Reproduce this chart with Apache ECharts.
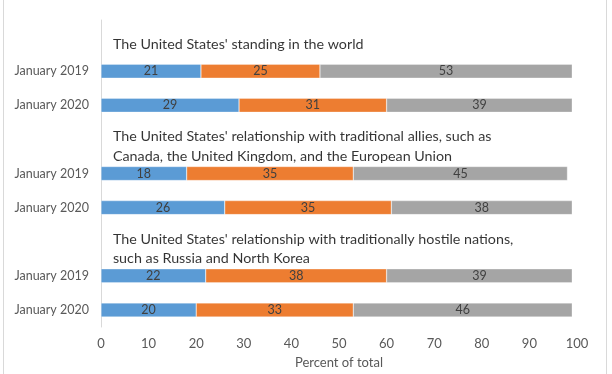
<!DOCTYPE html>
<html><head><meta charset="utf-8">
<script src="https://cdn.jsdelivr.net/npm/echarts@6/dist/echarts.min.js"></script>
<style>html,body{margin:0;padding:0;background:#fff}#c{width:612px;height:374px}</style>
</head><body><div id="c"></div>
<script>
var categories = ['T1','January 2019','January 2020','T2','January 2019','January 2020','T3','January 2019','January 2020'];
var groupTitles = {
  'T1': "The United States' standing in the world",
  'T2': "The United States' relationship with traditional allies, such as\nCanada, the United Kingdom, and the European Union",
  'T3': "The United States' relationship with traditionally hostile nations,\nsuch as Russia and North Korea"
};
var blueValues   = [null,21,29,null,18,26,null,22,20];
var orangeValues = [null,25,31,null,35,35,null,38,33];
var grayValues   = [null,53,39,null,45,38,null,39,46];
var xTicks = [0,10,20,30,40,50,60,70,80,90,100];
var titleX = 2.5;

var font = 'Lato, "Open Sans", sans-serif';
var chart = echarts.init(document.getElementById('c'), null, {renderer:'canvas'});
function barSeries(name, data, color){
  return {
    name: name, type: 'bar', stack: 'a', data: data, barWidth: 14,
    itemStyle: {color: color, borderColor: 'rgba(255,255,255,0.6)', borderWidth: 0.5},
    label: {show: true, position: 'inside', color: '#404040', fontSize: 12.5, fontFamily: font,
      formatter: function(p){ return p.value == null ? '' : p.value; }},
    emphasis: {disabled: true}
  };
}
var titleData = [];
categories.forEach(function(c){ if (groupTitles[c]) titleData.push([titleX, c]); });
chart.setOption({
  animation: false,
  backgroundColor: '#fff',
  grid: {left: 101, right: 35, top: 20, bottom: 42, containLabel: false},
  xAxis: {
    type: 'value', min: 0, max: 100, interval: 10,
    axisLine: {show: false}, axisTick: {show: false}, splitLine: {show: false},
    axisLabel: {color: '#595959', fontSize: 13, fontFamily: font, margin: 10,
      formatter: function(v){ return xTicks.indexOf(v) >= 0 ? String(v) : ''; }},
    name: 'Percent of total', nameLocation: 'middle', nameGap: 29,
    nameTextStyle: {color: '#595959', fontSize: 13, fontFamily: font}
  },
  yAxis: {
    type: 'category', data: categories, inverse: true,
    axisLine: {show: true, lineStyle: {color: '#d9d9d9', width: 1}},
    axisTick: {show: false},
    axisLabel: {color: '#595959', fontSize: 12.5, fontFamily: font, margin: 12,
      formatter: function(v){ return groupTitles[v] ? '' : v; }}
  },
  series: [
    barSeries('Better', blueValues, '#5B9BD5'),
    barSeries('Worse', orangeValues, '#ED7D31'),
    barSeries('Same', grayValues, '#A5A5A5'),
    {
      type: 'scatter', data: titleData, symbolSize: 0, silent: true,
      label: {show: true, position: 'right', distance: 0, offset: [0, 7], align: 'left',
        color: '#000', fontSize: 14.3, fontFamily: font, lineHeight: 19.5,
        formatter: function(p){ return groupTitles[p.value[1]]; }}
    }
  ],
  graphic: [
    {type: 'line', shape: {x1: 3.5, y1: 0, x2: 3.5, y2: 374}, style: {stroke: '#d9d9d9', lineWidth: 1}},
    {type: 'line', shape: {x1: 606.5, y1: 0, x2: 606.5, y2: 374}, style: {stroke: '#d9d9d9', lineWidth: 1}}
  ]
});
</script></body></html>
